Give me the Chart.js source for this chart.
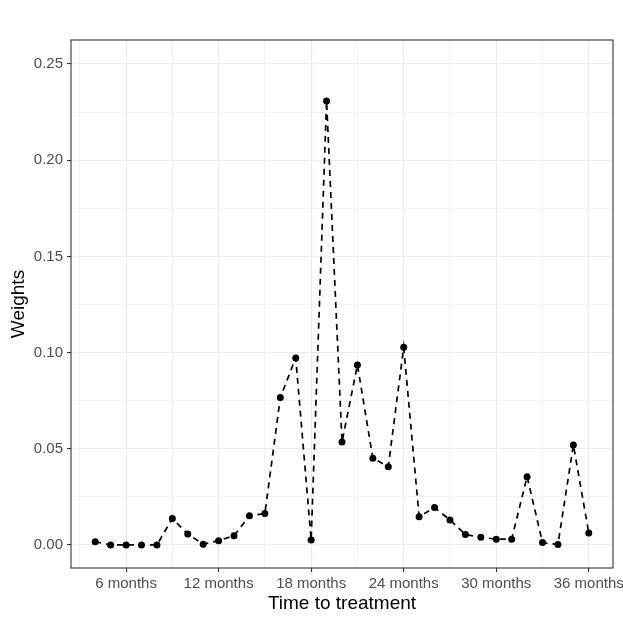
<!DOCTYPE html>
<html>
<head>
<meta charset="utf-8">
<script src="https://cdn.jsdelivr.net/npm/chart.js@4"></script>
<style>
  html, body { margin: 0; padding: 0; background: #fff; }
  #wrap { width: 623px; height: 623px; }
</style>
</head>
<body>
<div id="wrap"><canvas id="myChart" width="623" height="623"></canvas></div>
<script>
// months since event, and estimated weights
const months = [4, 5, 6, 7, 8, 9, 10, 11, 12, 13, 14, 15, 16, 17, 18, 19, 20,
  21, 22, 23, 24, 25, 26, 27, 28, 29, 30, 31, 32, 33, 34, 35, 36];
const weights = [0.0016, 0, 0, 0, 0, 0.0137, 0.0057, 0.0004, 0.0022, 0.0048, 0.0151, 0.0163,
  0.0766, 0.0972, 0.0026, 0.2308, 0.0535, 0.0936, 0.0451, 0.0407, 0.1027, 0.0147, 0.0194,
  0.013, 0.0054, 0.004, 0.003, 0.003, 0.0355, 0.0012, 0.0002, 0.052, 0.0062];

const xMajor = [6, 12, 18, 24, 30, 36];
const xMinor = [3, 9, 15, 21, 27, 33];
const yMajor = [0, 0.05, 0.10, 0.15, 0.20, 0.25];
const yMinor = [0.025, 0.075, 0.125, 0.175, 0.225];

const FONT = '"Liberation Sans", Arial, Helvetica, sans-serif';
const gridCol = '#ebebeb';
const darkCol = '#333333';

const panelBox = {
  id: 'panelBox',
  afterDraw(chart) {
    const a = chart.chartArea, c = chart.ctx;
    c.save();
    c.strokeStyle = darkCol;
    c.lineWidth = 1.1;
    c.strokeRect(a.left, a.top, a.right - a.left, a.bottom - a.top);
    c.restore();
  }
};

function setTicks(major, minor) {
  return function (scale) {
    scale.ticks = major.concat(minor).sort((a, b) => a - b).map(v => ({ value: v }));
  };
}

const ctx = document.getElementById('myChart');
new Chart(ctx, {
  type: 'line',
  data: {
    datasets: [{
      data: months.map((m, i) => ({ x: m, y: weights[i] })),
      borderColor: '#000',
      backgroundColor: '#000',
      borderWidth: 1.7,
      borderDash: [6, 5],
      pointRadius: 3.5,
      pointHoverRadius: 3.5,
      pointBorderWidth: 0,
      tension: 0
    }]
  },
  options: {
    responsive: false,
    animation: false,
    layout: { padding: { top: 40, right: 10, left: 0, bottom: 0 } },
    plugins: {
      legend: { display: false },
      tooltip: { enabled: false }
    },
    scales: {
      x: {
        type: 'linear',
        min: 2.43,
        max: 37.57,
        afterBuildTicks: setTicks(xMajor, xMinor),
        afterFit(scale) {
          scale.height = 55;
          scale.paddingLeft = 0;
          scale.paddingRight = 0;
        },
        grid: {
          color: gridCol,
          lineWidth: c => xMajor.includes(c.tick.value) ? 1.1 : 0.55,
          tickColor: c => xMajor.includes(c.tick.value) ? darkCol : 'rgba(0,0,0,0)',
          tickLength: 4
        },
        border: { display: false },
        ticks: {
          autoSkip: false,
          maxRotation: 0,
          padding: 3,
          color: '#4d4d4d',
          font: { family: FONT, size: 15 },
          callback: v => xMajor.includes(v) ? v + ' months' : ''
        },
        title: {
          display: true,
          text: 'Time to treatment',
          color: '#000',
          font: { family: FONT, size: 19 },
          padding: { top: 8, bottom: 8 }
        }
      },
      y: {
        min: -0.012,
        max: 0.2625,
        afterBuildTicks: setTicks(yMajor, yMinor),
        afterFit(scale) {
          scale.width = 71;
          scale.paddingTop = 0;
          scale.paddingBottom = 0;
        },
        grid: {
          color: gridCol,
          lineWidth: c => yMajor.includes(c.tick.value) ? 1.1 : 0.55,
          tickColor: c => yMajor.includes(c.tick.value) ? darkCol : 'rgba(0,0,0,0)',
          tickLength: 4
        },
        border: { display: false },
        ticks: {
          autoSkip: false,
          padding: 4,
          color: '#4d4d4d',
          font: { family: FONT, size: 15 },
          callback: v => yMajor.includes(v) ? v.toFixed(2) : ''
        },
        title: {
          display: true,
          text: 'Weights',
          color: '#000',
          font: { family: FONT, size: 19 },
          padding: { top: 7, bottom: 0 }
        }
      }
    }
  },
  plugins: [panelBox]
});
</script>
</body>
</html>
